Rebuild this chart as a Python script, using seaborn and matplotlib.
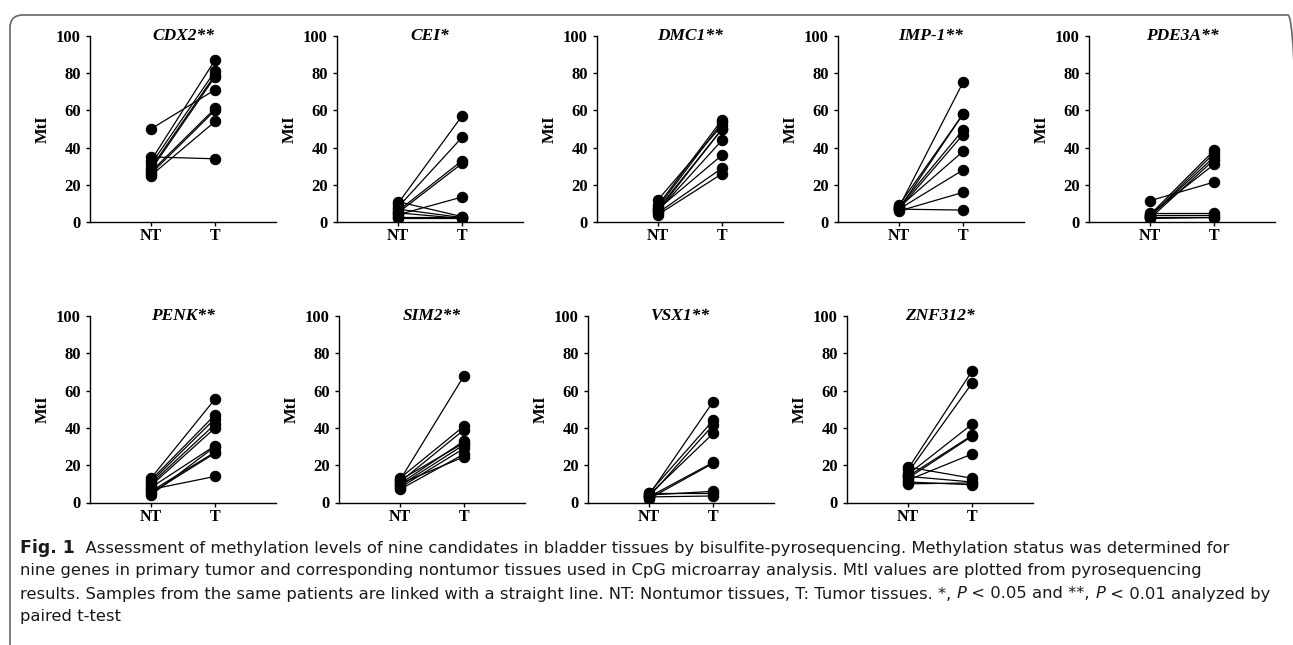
import matplotlib
matplotlib.use("Agg")
import matplotlib.pyplot as plt
import seaborn as sns
import pandas as pd
from matplotlib.patches import FancyBboxPatch
from matplotlib.transforms import IdentityTransform

# === Data (MtI values, paired NT -> T) ===
groups = ["NT", "T"]
genes = ["CDX2**", "CEI*", "DMC1**", "IMP-1**", "PDE3A**",
         "PENK**", "SIM2**", "VSX1**", "ZNF312*"]

cdx2_nt = [50, 35, 33, 31, 29, 28, 27, 26, 25]
cdx2_t = [71, 34, 87, 81, 79, 78, 61, 60, 54]

cei_nt = [10, 8, 6, 5, 4, 11, 7, 5, 2, 3]
cei_t = [57, 45.5, 33, 31.5, 13.5, 3, 2.5, 2, 2, 3]

dmc1_nt = [12, 9, 8, 7, 6, 7, 5, 4, 6]
dmc1_t = [52, 55, 53.5, 50, 44, 36, 29, 26, 50]

imp1_nt = [8, 7, 9, 8, 7, 8, 7, 6, 7]
imp1_t = [75, 58, 58, 49.5, 47, 38, 28, 16, 6.5]

pde3a_nt = [11.5, 4, 3, 3, 2, 4, 5, 4, 2, 3]
pde3a_t = [21.5, 38.5, 37, 35, 33.5, 31, 5, 4, 2.5, 3]

penk_nt = [13, 12, 11, 10, 9, 8, 6, 5, 7, 4]
penk_t = [55.5, 47, 45, 42, 40, 30.5, 27, 26.5, 14, 30]

sim2_nt = [12, 13, 11, 10, 9, 8, 7, 10, 12]
sim2_t = [68, 41, 39, 33, 31, 29, 26, 24.5, 32]

vsx1_nt = [4, 5, 3, 4, 3, 2, 4, 5, 3]
vsx1_t = [54, 44, 41.5, 37, 21.5, 21, 6, 5, 3.5]

znf312_nt = [18, 16, 15, 14, 13, 12, 19, 14, 11, 10]
znf312_t = [70.5, 64, 42, 36, 35.5, 26, 13, 11, 9.5, 10.5]

nt_values = [cdx2_nt, cei_nt, dmc1_nt, imp1_nt, pde3a_nt,
             penk_nt, sim2_nt, vsx1_nt, znf312_nt]
t_values = [cdx2_t, cei_t, dmc1_t, imp1_t, pde3a_t,
            penk_t, sim2_t, vsx1_t, znf312_t]

caption_lines = [
    "Assessment of methylation levels of nine candidates in bladder tissues by bisulfite-pyrosequencing. Methylation status was determined for",
    "nine genes in primary tumor and corresponding nontumor tissues used in CpG microarray analysis. MtI values are plotted from pyrosequencing",
    "results. Samples from the same patients are linked with a straight line. NT: Nontumor tissues, T: Tumor tissues. *, ",
    "paired t-test",
]

# === Style ===
sns.set_style("ticks")
plt.rcParams["font.family"] = ["Liberation Serif", "DejaVu Serif"]
plt.rcParams["axes.linewidth"] = 1.0
for key in ["text.color", "axes.labelcolor", "xtick.color", "ytick.color", "axes.edgecolor"]:
    plt.rcParams[key] = "black"

W, H = 1293, 645
fig = plt.figure(figsize=(W / 100, H / 100), dpi=100)

# axes placement in pixels (left, top of the 100 tick)
top_row = [90, 337, 597, 838, 1089]
bottom_row = [90, 339, 588, 847]
positions = [(x, 35.7) for x in top_row] + [(x, 316) for x in bottom_row]
ax_w, ax_h = 186, 186.5

for gene, nt, t, (left, top) in zip(genes, nt_values, t_values, positions):
    ax = fig.add_axes([left / W, 1 - (top + ax_h) / H, ax_w / W, ax_h / H])
    df = pd.DataFrame({
        "group": [groups[0]] * len(nt) + [groups[1]] * len(t),
        "MtI": list(nt) + list(t),
        "pair": list(range(len(nt))) * 2,
    })
    sns.lineplot(data=df, x="group", y="MtI", units="pair", estimator=None,
                 color="black", linewidth=0.9, marker="o", markersize=7.5,
                 markeredgecolor="black", markerfacecolor="black", ax=ax)
    ax.set_xlim(-0.95, 1.95)
    ax.set_ylim(0, 100)
    ax.set_yticks([0, 20, 40, 60, 80, 100])
    ax.set_xticks([0, 1])
    ax.set_xticklabels(groups)
    sns.despine(ax=ax)
    ax.tick_params(axis="y", length=3, width=1, pad=3.5, labelsize=12)
    ax.tick_params(axis="x", length=3, width=1, pad=1.5, labelsize=11.5)
    for lab in ax.get_xticklabels() + ax.get_yticklabels():
        lab.set_fontweight("bold")
    ax.set_xlabel("")
    ax.set_ylabel("MtI", fontsize=12, fontweight="bold", labelpad=4)
    ax.text(0.5, 100, gene, ha="center", va="center", fontsize=12.5,
            fontweight="bold", fontstyle="italic")

# === Caption ===
cap_font = ["Liberation Sans Narrow", "DejaVu Sans"]
renderer = fig.canvas.get_renderer()


def draw_runs(x, y, runs):
    for text, kw in runs:
        style = {"fontsize": 11.75, "color": "#1a1a1a"}
        style.update(kw)
        t = fig.text(x / W, 1 - y / H, text, ha="left", va="center",
                     family=cap_font, **style)
        x += t.get_window_extent(renderer).width
    return x


cap_y = [548, 571, 594, 617]
draw_runs(20, cap_y[0], [("Fig. 1", {"fontweight": "bold", "fontsize": 12.5}),
                         ("  " + caption_lines[0], {})])
draw_runs(20, cap_y[1], [(caption_lines[1], {})])
draw_runs(20, cap_y[2], [(caption_lines[2], {}), ("P", {"fontstyle": "italic"}),
                         (" < 0.05 and **, ", {}), ("P", {"fontstyle": "italic"}),
                         (" < 0.01 analyzed by", {})])
draw_runs(20, cap_y[3], [(caption_lines[3], {})])

# rounded frame around the figure (pixel coordinates, origin bottom-left)
frame = FancyBboxPatch((10, -40), 1301 - 10, H - 15 + 40,
                       boxstyle="round,pad=0,rounding_size=13",
                       facecolor="none", edgecolor="#666666", linewidth=1.2,
                       transform=IdentityTransform())
fig.add_artist(frame)

fig.savefig("out.png", dpi=100)
